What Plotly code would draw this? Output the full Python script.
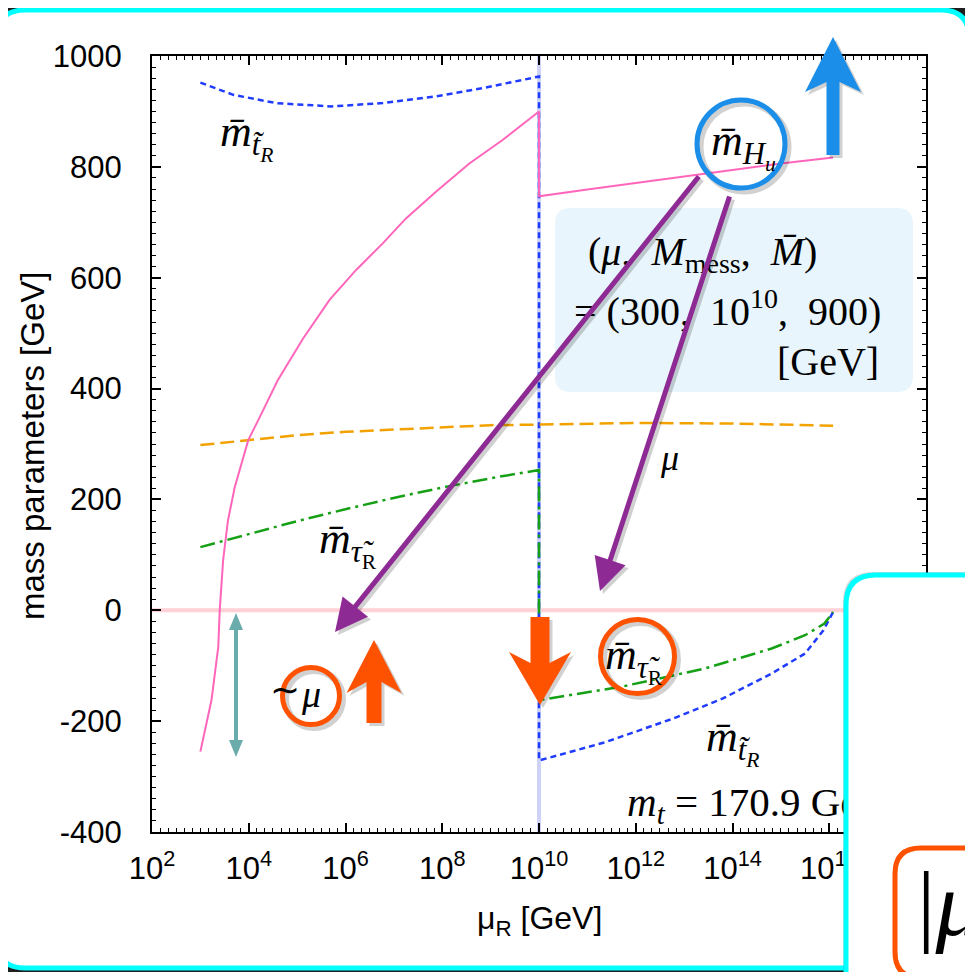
import math
import plotly.graph_objects as go

# ---------------- data (x given as log10(mu_R / GeV)) ----------------
mHu_exp = [3.0, 3.23, 3.37, 3.40, 3.47, 3.57, 3.71, 3.99, 4.23, 4.60, 5.12, 5.67, 6.22,
           6.77, 7.25, 7.87, 8.56, 9.24, 10.0, 10.0, 11.0, 12.0, 13.0, 14.0, 15.0, 16.08]
mHu_val = [-255, -162, -66, 0, 90, 162, 222, 307, 349, 415, 490, 560, 614,
           662, 707, 755, 806, 848, 900, 747, 759, 771, 782, 795, 806, 817]

mtR_exp = [3.0, 3.68, 4.57, 5.70, 6.77, 7.87, 8.83, 10.0, 10.0, 11.37, 12.75, 13.78,
           14.81, 15.5, 15.88, 16.08]
mtR_val = [952, 930, 915, 909, 915, 927, 942, 963, -271, -238, -196, -160,
           -114, -78, -36, -3]

mu_exp = [3, 4, 5, 6, 7, 8, 9, 10, 12, 14, 16.08]
mu_val = [298, 307, 316, 322, 326, 331, 334, 335, 338, 337, 333]

mtau_exp = [3.0, 4.02, 5.05, 6.08, 7.11, 8.14, 9.18, 10.0, 10.0, 11.7, 13.43, 14.81,
            15.5, 15.9, 16.08]
mtau_val = [114, 138, 162, 184, 205, 224, 241, 253, -162, -138, -105, -69,
            -45, -24, -3]

zero_exp = [2, 18]
zero_val = [0, 0]
mess_exp = [10, 10]
mess_val = [-400, 1000]

x_tick_exps = [2, 4, 6, 8, 10, 12, 14, 16]
x_tick_text = ["10<sup>%d</sup>" % e for e in x_tick_exps]
y_tick_vals = [-400, -200, 0, 200, 400, 600, 800, 1000]
y_tick_text = [str(v) for v in y_tick_vals]

mt_label_exp = 11.82
mt_label_val = -352

# ---------------- geometry helpers (reference pixel coords) ----------------
OFF = 8                      # page body margin
W, H = 973 - OFF, 972 - OFF  # figure size
L, R, T, B = 152, 926, 56, 832


def X(px):
    return (px - L) / (R - L)


def Y(py):
    return (B - py) / (B - T)


def poly(points):
    return "M " + " L ".join("%.5f,%.5f" % (X(x), Y(y)) for x, y in points) + " Z"


def rrect(x0, y0, x1, y1, r):
    p = lambda x, y: "%.5f,%.5f" % (X(x), Y(y))
    return ("M %s L %s Q %s %s L %s Q %s %s L %s Q %s %s L %s Q %s %s Z" % (
        p(x0 + r, y0), p(x1 - r, y0), p(x1, y0), p(x1, y0 + r), p(x1, y1 - r),
        p(x1, y1), p(x1 - r, y1), p(x0 + r, y1), p(x0, y1), p(x0, y1 - r),
        p(x0, y0 + r), p(x0, y0), p(x0 + r, y0)))


def fat_arrow(tail, tip, sw, hw, hl, notch=0.0):
    tx, ty = tail
    hx, hy = tip
    dx, dy = hx - tx, hy - ty
    n = math.hypot(dx, dy)
    ux, uy = dx / n, dy / n
    nx, ny = -uy, ux
    bx, by = hx - ux * hl, hy - uy * hl
    jx, jy = hx - ux * (hl - notch), hy - uy * (hl - notch)
    pts = [(tx + nx * sw / 2, ty + ny * sw / 2), (jx + nx * sw / 2, jy + ny * sw / 2),
           (bx + nx * hw / 2, by + ny * hw / 2), (hx, hy),
           (bx - nx * hw / 2, by - ny * hw / 2), (jx - nx * sw / 2, jy - ny * sw / 2),
           (tx - nx * sw / 2, ty - ny * sw / 2)]
    return poly(pts)


PINK = "#ff66bb"
BLUE = "#1f3cff"
ORANGE = "#f2a200"
GREEN = "#16a016"
ARROW_BLUE = "#1a8ee8"
RED_OR = "#ff5200"
PURPLE = "#8e2a94"
TEAL = "#6aabab"
SERIF = "Liberation Serif"
SANS = "Liberation Sans"

fig = go.Figure()


def ex(v):
    return [10 ** e for e in v]


common = dict(mode="lines", hoverinfo="skip", showlegend=False)
fig.add_trace(go.Scatter(x=ex(zero_exp), y=zero_val, line=dict(color="#ffd0d6", width=4), **common))
fig.add_trace(go.Scatter(x=ex(mess_exp), y=mess_val, line=dict(color="#cdd2f6", width=4), **common))
fig.add_trace(go.Scatter(x=ex(mtR_exp), y=mtR_val, line=dict(color=BLUE, width=2.5, dash="6px,4px"), **common))
fig.add_trace(go.Scatter(x=ex(mtau_exp), y=mtau_val, line=dict(color=GREEN, width=2.5, dash="15px,5px,3px,5px"), **common))
fig.add_trace(go.Scatter(x=ex(mu_exp), y=mu_val, line=dict(color=ORANGE, width=2.5, dash="14px,6px"), **common))
fig.add_trace(go.Scatter(x=ex(mHu_exp), y=mHu_val, line=dict(color=PINK, width=2), **common))
fig.add_trace(go.Scatter(x=[10 ** mt_label_exp], y=[mt_label_val], mode="text",
                         text=["<i>m</i><sub><i>t</i></sub>\u00a0=\u00a0170.9 GeV"],
                         textposition="middle right",
                         textfont=dict(family=SERIF, size=41, color="black"),
                         hoverinfo="skip", showlegend=False))
# empty trace for the minor-tick axis
fig.add_trace(go.Scatter(x=[], y=[], xaxis="x2", yaxis="y", showlegend=False, hoverinfo="skip"))

shapes = []
# main white slide panel
shapes.append(dict(type="path", path=rrect(-3, 10, 969, 968, 28), fillcolor="white",
                   line=dict(color="#00ffff", width=5), layer="below", xref="paper", yref="paper"))
# parameter box
shapes.append(dict(type="path", path=rrect(555, 208, 913, 392, 16), fillcolor="#e8f5fc",
                   line=dict(width=0), layer="above", xref="paper", yref="paper"))


def add_circle(cx, cy, r, color, width=5):
    shapes.append(dict(type="circle", x0=X(cx - r + 3), x1=X(cx + r + 3), y0=Y(cy + r + 3), y1=Y(cy - r + 3),
                       line=dict(color="rgba(0,0,0,0.18)", width=width + 2), layer="above",
                       xref="paper", yref="paper"))
    shapes.append(dict(type="circle", x0=X(cx - r), x1=X(cx + r), y0=Y(cy + r), y1=Y(cy - r),
                       line=dict(color=color, width=width), layer="above",
                       xref="paper", yref="paper"))


def add_fat(tail, tip, sw, hw, hl, notch, color):
    shapes.append(dict(type="path", path=fat_arrow((tail[0] + 3, tail[1] + 3), (tip[0] + 3, tip[1] + 3), sw, hw, hl, notch),
                       fillcolor="rgba(0,0,0,0.18)", line=dict(width=0), layer="above",
                       xref="paper", yref="paper"))
    shapes.append(dict(type="path", path=fat_arrow(tail, tip, sw, hw, hl, notch),
                       fillcolor=color, line=dict(width=0), layer="above",
                       xref="paper", yref="paper"))


add_circle(741, 144, 44, ARROW_BLUE)
add_circle(311, 696, 28.5, RED_OR)
add_circle(637.5, 656.5, 37, RED_OR)
add_fat((833, 155), (833, 37), 13, 56, 55, 10, ARROW_BLUE)
add_fat((374, 723), (374, 640), 15, 55, 53, 11, RED_OR)
add_fat((540, 617), (540, 705), 19, 62, 53, 11, RED_OR)

# teal double arrow
shapes.append(dict(type="path", path=poly([(234, 627), (238, 627), (238, 743), (234, 743)]),
                   fillcolor=TEAL, line=dict(width=0), layer="above", xref="paper", yref="paper"))
shapes.append(dict(type="path", path=poly([(236, 613), (243, 630), (229, 630)]),
                   fillcolor=TEAL, line=dict(width=0), layer="above", xref="paper", yref="paper"))
shapes.append(dict(type="path", path=poly([(236, 757), (243, 740), (229, 740)]),
                   fillcolor=TEAL, line=dict(width=0), layer="above", xref="paper", yref="paper"))

# overlapping next slide panel (bottom-right)
shapes.append(dict(type="path", path=rrect(843, 572, 1000, 1000, 30), fillcolor="rgba(0,0,0,0.15)",
                   line=dict(width=0), layer="above", xref="paper", yref="paper"))
shapes.append(dict(type="path", path=rrect(846, 575, 1000, 1000, 30), fillcolor="white",
                   line=dict(color="#00ffff", width=5), layer="above", xref="paper", yref="paper"))
shapes.append(dict(type="path", path=rrect(895, 848, 1010, 978, 26), fillcolor="white",
                   line=dict(color=RED_OR, width=5), layer="above", xref="paper", yref="paper"))

ann = []


def txt(px, py, s, size, xanchor="left", yanchor="middle", family=SERIF, **kw):
    ann.append(dict(x=X(px), y=Y(py), xref="paper", yref="paper", text=s, showarrow=False,
                    xanchor=xanchor, yanchor=yanchor,
                    font=dict(family=family, size=size, color="black"), **kw))


MB = "<i>m\u0304</i>"
LT = MB + "<sub><i>t\u0303<sub>R</sub></i></sub>"
LTAU = MB + "<sub><i>\u03c4\u0303</i><sub>R</sub></sub>"
txt(218, 137, LT, 44)
txt(317, 544, LTAU, 44)
txt(704, 742, LT, 44)
txt(603, 660, LTAU, 44)
txt(709, 146, MB + "<sub><i>H<sub>u</sub></i></sub>", 44)
txt(658, 458, "<i>\u03bc</i>", 36)
txt(268, 690, "\u223c", 36)
txt(311, 694, "<i>\u03bc</i>", 38, xanchor="center")
# parameter box text
txt(586, 254, "(<i>\u03bc</i>,\u00a0\u00a0<i>M</i><sub>mess</sub>,\u00a0\u00a0<i>M\u0304</i>)", 40)
txt(572, 308, "=\u00a0(300,\u00a0\u00a010<sup>10</sup>,\u00a0\u00a0900)", 40)
txt(881, 361, "[GeV]", 40, xanchor="right")

# purple arrows (drawn above the box text)
for head, tail in [((335, 632), (700, 175)), ((600, 591), (730, 195))]:
    for col, d in [("rgba(0,0,0,0.18)", 3), (PURPLE, 0)]:
        ann.append(dict(x=X(head[0] + d), y=Y(head[1] + d), xref="paper", yref="paper",
                        ax=tail[0] - head[0], ay=tail[1] - head[1], axref="pixel", ayref="pixel",
                        text="", showarrow=True, arrowhead=2, arrowsize=1.3, arrowwidth=5,
                        arrowcolor=col, standoff=0, startstandoff=0))

# big |mu on next slide
txt(915, 904, "|<i>\u03bc</i>", 92)

# axis titles
txt(32, 446, "mass parameters [GeV]", 33, xanchor="center", family=SANS, textangle=-90)
txt(539, 920, "\u03bc<sub>R</sub> [GeV]", 32, xanchor="center", family=SANS)

fig.update_layout(
    width=W, height=H, autosize=False,
    margin=dict(l=L - OFF, r=W - (R - OFF), t=T - OFF, b=H - (B - OFF), pad=0),
    paper_bgcolor="#1e1e1e", plot_bgcolor="rgba(0,0,0,0)",
    showlegend=False,
    shapes=shapes, annotations=ann,
    xaxis=dict(type="log", range=[2, 18], tickvals=[10 ** e for e in x_tick_exps], ticktext=x_tick_text,
               ticks="inside", ticklen=9, tickwidth=1.5, tickcolor="black",
               showline=True, linecolor="black", linewidth=2, mirror="ticks",
               showgrid=False, zeroline=False, ticklabelstandoff=8,
               tickfont=dict(family=SANS, size=31, color="black")),
    xaxis2=dict(overlaying="x", anchor="y", side="bottom", range=[2, 18], type="linear",
                tickmode="linear", tick0=2, dtick=1 / 6, ticks="inside", ticklen=4, tickwidth=1.2,
                tickcolor="black", showticklabels=False, showgrid=False, zeroline=False,
                showline=False, mirror="ticks"),
    yaxis=dict(range=[-400, 1000], tickvals=y_tick_vals, ticktext=y_tick_text,
               ticks="inside", ticklen=9, tickwidth=1.5, tickcolor="black",
               minor=dict(ticks="inside", ticklen=4, dtick=20, tickcolor="black", tickwidth=1.2),
               showline=True, linecolor="black", linewidth=2, mirror="ticks",
               showgrid=False, zeroline=False, ticklabelstandoff=22,
               tickfont=dict(family=SANS, size=31, color="black")),
)

fig.write_html("out.html")
